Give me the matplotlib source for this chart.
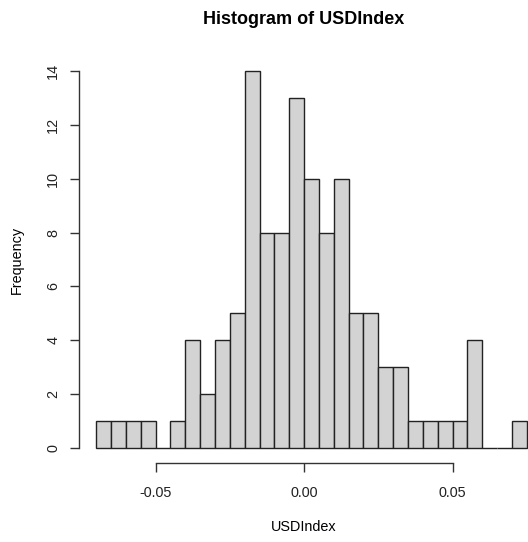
import matplotlib.pyplot as plt
import numpy as np

plt.rcParams['font.family'] = ['Liberation Sans', 'DejaVu Sans']

# histogram of USDIndex, bin width 0.005
bin_edges = np.round(np.arange(-0.07, 0.0751, 0.005), 4)
counts = [1, 1, 1, 1, 0, 1, 4, 2, 4, 5, 14, 8, 8, 13, 10,
          8, 10, 5, 5, 3, 3, 1, 1, 1, 1, 4, 0, 0, 1]
x_ticks = [-0.05, 0.0, 0.05]
x_ticklabels = ['-0.05', '0.00', '0.05']
y_ticks = [0, 2, 4, 6, 8, 10, 12, 14]

W, H = 528, 542
fig = plt.figure(figsize=(W / 100, H / 100), dpi=100)
ax = fig.add_axes([79 / W, (H - 463) / H, 465 / W, 407 / H])

ax.bar(bin_edges[:-1], counts, width=np.diff(bin_edges), align='edge',
       color='#D3D3D3', edgecolor='#222222', linewidth=1.0)

# R-style axes: 4% padding, detached spines
ax.set_xlim(-0.0758, 0.0808)
ax.set_ylim(-0.56, 14.56)
for s in ['top', 'right']:
    ax.spines[s].set_visible(False)
ax.spines['left'].set_bounds(0, 14)
ax.spines['bottom'].set_bounds(-0.05, 0.05)
for s in ['left', 'bottom']:
    ax.spines[s].set_color('#333333')
    ax.spines[s].set_linewidth(1.0)

ax.set_xticks(x_ticks)
ax.set_xticklabels(x_ticklabels)
ax.set_yticks(y_ticks)
ax.set_yticklabels([str(v) for v in y_ticks], rotation=90, va='center')
ax.tick_params(axis='both', length=6.5, width=1.0, color='#333333',
               labelsize=10.4, labelcolor='#222222')
ax.tick_params(axis='x', pad=10)
ax.tick_params(axis='y', pad=7)

fig.text(304 / W, 1 - 19 / H, 'Histogram of USDIndex', ha='center', va='center',
         fontsize=13, fontweight='bold')
fig.text(304 / W, 1 - 527 / H, 'USDIndex', ha='center', va='center', fontsize=10.4)
fig.text(17 / W, 1 - 260 / H, 'Frequency', ha='center', va='center',
         rotation=90, fontsize=10.4)

fig.savefig('out.png', dpi=100)
